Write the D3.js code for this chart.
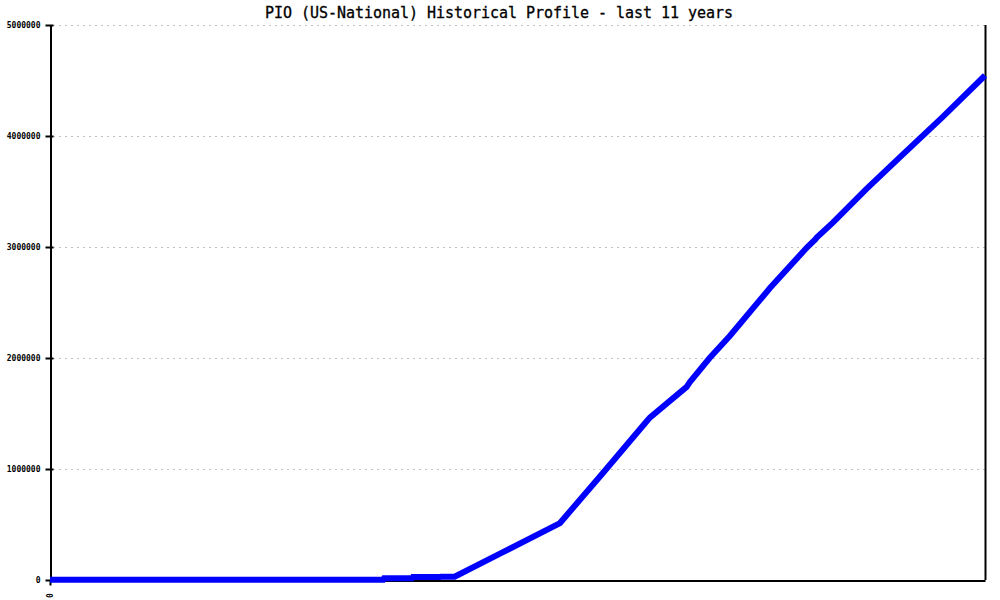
<!DOCTYPE html>
<html>
<head>
<meta charset="utf-8">
<script src="https://cdn.jsdelivr.net/npm/d3@7"></script>
<style>
  body { margin: 0; background: #fff; }
  svg { display: block; }
</style>
</head>
<body>
<svg id="chart" width="1000" height="600"></svg>
<script>
// Data: time in years since start of the 11-year window, and values
const title = "PIO (US-National) Historical Profile - last 11 years";
const years = [0, 3.92, 3.93, 4.26, 4.27, 4.59, 4.60, 4.76, 5.30, 6.00, 6.50, 7.02, 7.06, 7.49, 7.53, 7.76, 8.00, 8.47, 8.91, 9.00, 9.02, 9.21, 9.60, 10.00, 10.50, 11.00];
const values = [3000, 3000, 15000, 15000, 27000, 27000, 30000, 30000, 240000, 513000, 960000, 1430000, 1465000, 1740000, 1785000, 2000000, 2200000, 2630000, 3000000, 3065000, 3085000, 3220000, 3520000, 3810000, 4170000, 4545000];
const yTicks = [0, 1000000, 2000000, 3000000, 4000000, 5000000];
const xTicks = [0];

const svg = d3.select("#chart");
const mLeft = 50, mRight = 985, mTop = 25, mBottom = 580;

const x = d3.scaleLinear().domain([0, 11]).range([mLeft, mRight]);
const y = d3.scaleLinear().domain([0, 5000000]).range([mBottom, mTop]);

// Title
svg.append("text")
  .attr("x", 499).attr("y", 18)
  .attr("text-anchor", "middle")
  .attr("font-family", "DejaVu Sans Mono, Liberation Mono, monospace")
  .attr("font-size", 15)
  .attr("textLength", 468).attr("lengthAdjust", "spacing")
  .attr("fill", "#000")
  .attr("stroke", "#000").attr("stroke-width", 0.3)
  .text(title);

// Gridlines
svg.append("g").selectAll("line")
  .data(yTicks.filter(d => d > 0))
  .join("line")
  .attr("x1", mLeft + 3).attr("x2", mRight)
  .attr("y1", d => y(d) + 0.5).attr("y2", d => y(d) + 0.5)
  .attr("stroke", "#c0c0c0").attr("stroke-width", 1)
  .attr("stroke-dasharray", "2,4");

// Y axis
const yAxis = d3.axisLeft(y).tickValues(yTicks).tickSize(4).tickSizeOuter(0)
  .tickFormat(d3.format("d"));
const gy = svg.append("g").attr("transform", `translate(${mLeft + 0.5},0)`).call(yAxis);
gy.select(".domain").attr("stroke", "#000").attr("stroke-width", 2);
gy.selectAll(".tick line").attr("x2", 3).attr("x1", -5).attr("stroke", "#000").attr("stroke-width", 2);
gy.selectAll(".tick text")
  .attr("x", -10)
  .attr("font-family", "DejaVu Sans Mono, Liberation Mono, monospace")
  .attr("font-size", 8).attr("font-weight", "bold").attr("fill", "#000");

// Right border
svg.append("line")
  .attr("x1", mRight + 0.5).attr("x2", mRight + 0.5)
  .attr("y1", mTop).attr("y2", mBottom)
  .attr("stroke", "#000").attr("stroke-width", 2);

// X axis
const xAxis = d3.axisBottom(x).tickValues(xTicks).tickSize(5).tickSizeOuter(0)
  .tickFormat(d3.format("d"));
const gx = svg.append("g").attr("transform", `translate(0,${mBottom + 0.5})`).call(xAxis);
gx.select(".domain").attr("stroke", "#000").attr("stroke-width", 2);
gx.selectAll(".tick line").attr("stroke", "#000").attr("stroke-width", 2);
gx.selectAll(".tick text")
  .attr("transform", "rotate(-90)")
  .attr("x", -15).attr("y", 0).attr("dy", "0.35em")
  .attr("text-anchor", "middle")
  .attr("font-family", "DejaVu Sans Mono, Liberation Mono, monospace")
  .attr("font-size", 8).attr("font-weight", "bold").attr("fill", "#000");

// Line
const line = d3.line().x((d, i) => x(years[i])).y(d => y(d));
svg.append("path")
  .datum(values)
  .attr("d", line)
  .attr("fill", "none")
  .attr("stroke", "#0000ff")
  .attr("stroke-width", 6)
  .attr("stroke-linejoin", "miter");
</script>
</body>
</html>
